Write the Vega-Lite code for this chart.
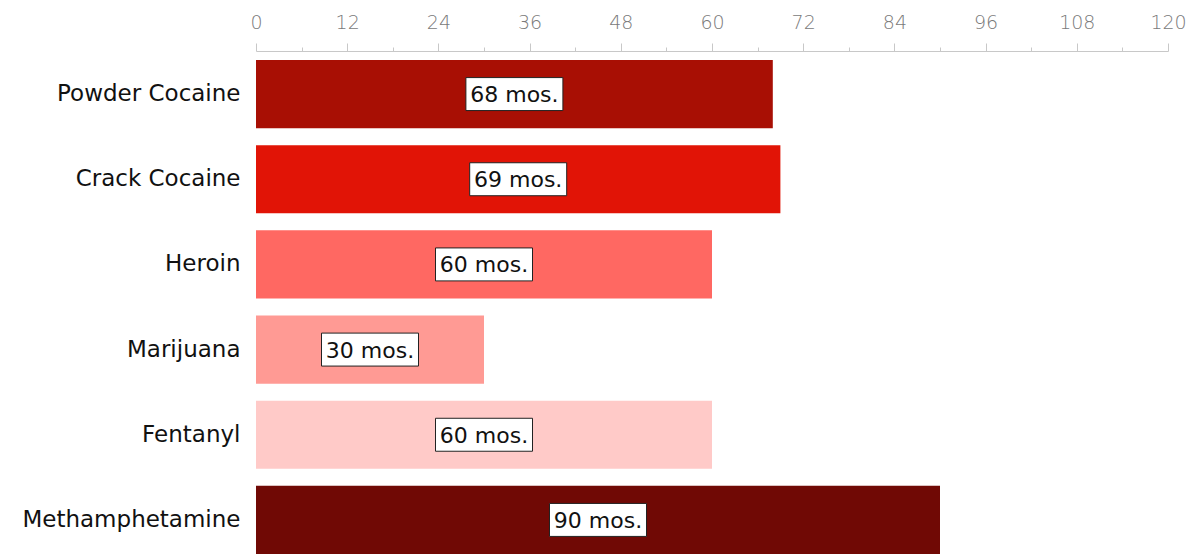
{
  "$schema": "https://vega.github.io/schema/vega-lite/v6.json",
  "width": 912,
  "height": 494,
  "autosize": {"type": "none"},
  "padding": {"left": 256, "top": 60, "right": 25, "bottom": 0},
  "background": "white",
  "config": {"view": {"stroke": null}, "font": "DejaVu Sans"},
  "data": {
    "values": [
      {"drug": "Powder Cocaine", "months": 68, "label": "68 mos."},
      {"drug": "Crack Cocaine", "months": 69, "label": "69 mos."},
      {"drug": "Heroin", "months": 60, "label": "60 mos."},
      {"drug": "Marijuana", "months": 30, "label": "30 mos."},
      {"drug": "Fentanyl", "months": 60, "label": "60 mos."},
      {"drug": "Methamphetamine", "months": 90, "label": "90 mos."}
    ]
  },
  "encoding": {
    "y": {
      "field": "drug", "type": "nominal", "sort": null,
      "scale": {"paddingInner": 0.2, "paddingOuter": 0},
      "axis": {"title": null, "domain": false, "ticks": false, "labelFontSize": 23, "labelColor": "#111", "labelPadding": 16, "labelLimit": 0, "labelFont": "DejaVu Sans", "labelFontWeight": "normal"}
    }
  },
  "layer": [
    {
      "mark": {"type": "bar"},
      "encoding": {
        "x": {
          "field": "months", "type": "quantitative",
          "scale": {"domain": [0, 120], "nice": false},
          "axis": {"orient": "top", "title": null, "values": [0,12,24,36,48,60,72,84,96,108,120], "grid": false, "offset": 9, "domainColor": "#c8c8c8", "tickColor": "#c8c8c8", "tickSize": 8, "labelColor": "#7a7a7a", "labelFontSize": 19, "labelPadding": 11, "labelFlush": false, "labelFont": "DejaVu Sans", "labelFontWeight": 200}
        },
        "color": {
          "field": "drug", "type": "nominal", "legend": null,
          "scale": {"domain": ["Powder Cocaine","Crack Cocaine","Heroin","Marijuana","Fentanyl","Methamphetamine"], "range": ["#a80f04","#e11406","#ff6862","#ff9a94","#ffcac8","#700905"]}
        }
      }
    },
    {
      "mark": {"type": "tick", "opacity": 0},
      "encoding": {
        "x": {
          "field": "months", "type": "quantitative",
          "scale": {"domain": [0, 120], "nice": false},
          "axis": {"orient": "top", "title": null, "values": [6,18,30,42,54,66,78,90,102,114], "labels": false, "grid": false, "offset": 9, "domain": false, "tickColor": "#c8c8c8", "tickSize": 4}
        }
      }
    },
    {
      "mark": {"type": "point", "shape": "M-1,-0.34L1,-0.34L1,0.34L-1,0.34Z", "filled": true, "fill": "white", "stroke": "#222", "strokeWidth": 1, "size": 9409, "opacity": 1},
      "encoding": {
        "x": {"field": "months", "type": "quantitative", "scale": {"domain": [0, 240], "nice": false}, "axis": null}
      }
    },
    {
      "mark": {"type": "text", "fontSize": 22, "fontWeight": "normal", "color": "#111", "align": "center", "baseline": "middle", "dy": 1},
      "encoding": {
        "x": {"field": "months", "type": "quantitative", "scale": {"domain": [0, 240], "nice": false}, "axis": null},
        "text": {"field": "label"}
      }
    }
  ],
  "resolve": {"axis": {"x": "independent"}, "scale": {"x": "independent"}}
}
